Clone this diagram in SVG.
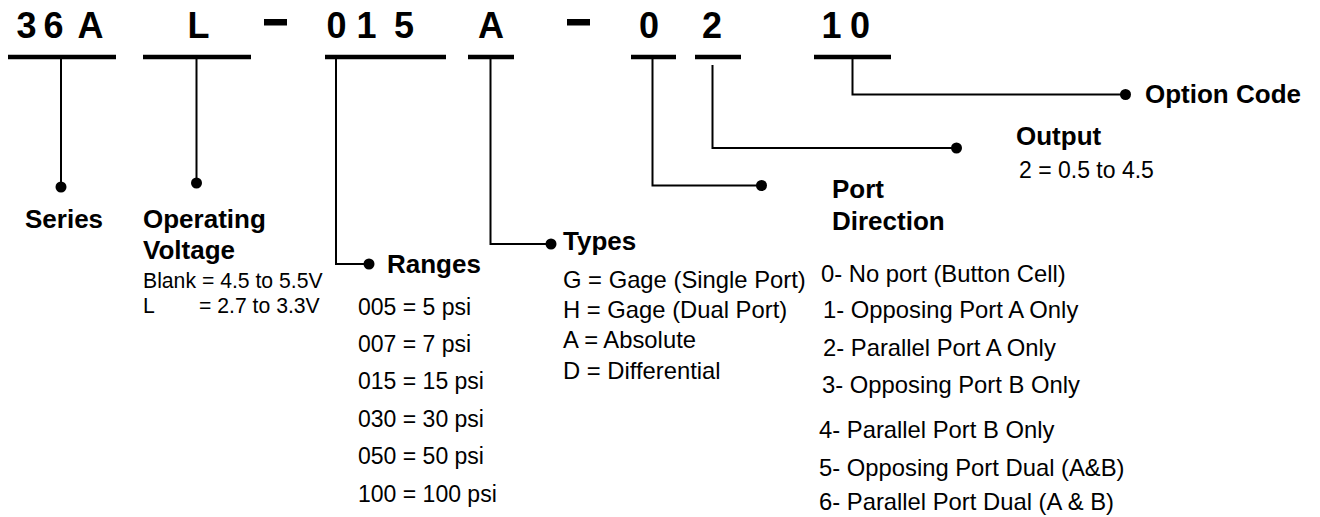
<svg xmlns="http://www.w3.org/2000/svg" width="1320" height="517" viewBox="0 0 1320 517">
<style>
  .code { font-family: "Liberation Sans", Arial, sans-serif; font-weight: bold; font-size: 36px; fill: #000; text-anchor: middle; }
  .bar { stroke: #000; stroke-width: 4.5; fill: none; }
  .dash { fill: #000; }
  .conn { stroke: #000; stroke-width: 2; fill: none; }
  .dot { fill: #000; }
  .lbl { font-family: "Liberation Sans", Arial, sans-serif; font-weight: bold; font-size: 26px; fill: #000; }
  .val { font-family: "Liberation Sans", Arial, sans-serif; font-size: 23px; fill: #000; }
  .val2 { font-family: "Liberation Sans", Arial, sans-serif; font-size: 23.8px; fill: #000; }
  .val3 { font-family: "Liberation Sans", Arial, sans-serif; font-size: 21.2px; fill: #000; }
</style>
<rect width="1320" height="517" fill="#fff"/>

<g id="code">
  <text class="code" x="26.5" y="38">3</text>
  <text class="code" x="53.5" y="38">6</text>
  <text class="code" x="90.5" y="38">A</text>
  <text class="code" x="198.5" y="38">L</text>
  <rect class="dash" x="264" y="19" width="23" height="6.5"/>
  <text class="code" x="336.5" y="38">0</text>
  <text class="code" x="366.5" y="38">1</text>
  <text class="code" x="404" y="38">5</text>
  <text class="code" x="491" y="38">A</text>
  <rect class="dash" x="567" y="19" width="23" height="6.5"/>
  <text class="code" x="649" y="38">0</text>
  <text class="code" x="712" y="38">2</text>
  <text class="code" x="831.5" y="38">1</text>
  <text class="code" x="860" y="38">0</text>
  <line class="bar" x1="8" y1="57" x2="116" y2="57"/>
  <line class="bar" x1="143" y1="57" x2="251" y2="57"/>
  <line class="bar" x1="325" y1="57" x2="446" y2="57"/>
  <line class="bar" x1="468" y1="57" x2="514" y2="57"/>
  <line class="bar" x1="631" y1="57" x2="676" y2="57"/>
  <line class="bar" x1="695" y1="57" x2="741" y2="57"/>
  <line class="bar" x1="814" y1="57" x2="891" y2="57"/>
</g>

<g id="connectors">
  <path class="conn" d="M61,59 V187"/>
  <circle class="dot" cx="61" cy="187" r="5.5"/>
  <path class="conn" d="M196.5,59 V183"/>
  <circle class="dot" cx="196.5" cy="183" r="5.5"/>
  <path class="conn" d="M336,59 V264 H369"/>
  <circle class="dot" cx="369" cy="264" r="5.5"/>
  <path class="conn" d="M490.5,59 V244 H551"/>
  <circle class="dot" cx="551" cy="244" r="5.5"/>
  <path class="conn" d="M652.5,59 V185.5 H761.5"/>
  <circle class="dot" cx="761.5" cy="185.5" r="5.5"/>
  <path class="conn" d="M712.5,65 V148 H956.5"/>
  <circle class="dot" cx="956.5" cy="148" r="5.5"/>
  <path class="conn" d="M852.5,59 V94.5 H1125.5"/>
  <circle class="dot" cx="1125.5" cy="94.5" r="5.5"/>
</g>

<g id="series">
  <text class="lbl" x="25" y="228">Series</text>
</g>

<g id="operating-voltage">
  <text class="lbl" x="143" y="228">Operating</text>
  <text class="lbl" x="143" y="259">Voltage</text>
  <text class="val3" x="143" y="288">Blank = 4.5 to 5.5V</text>
  <text class="val3"><tspan x="143" y="313">L</tspan><tspan x="199" y="313">= 2.7 to 3.3V</tspan></text>
</g>

<g id="ranges">
  <text class="lbl" x="387" y="273">Ranges</text>
  <text class="val" x="358" y="315">005 = 5 psi</text>
  <text class="val" x="358" y="352">007 = 7 psi</text>
  <text class="val" x="358" y="389">015 = 15 psi</text>
  <text class="val" x="358" y="427">030 = 30 psi</text>
  <text class="val" x="358" y="464">050 = 50 psi</text>
  <text class="val" x="358" y="502">100 = 100 psi</text>
</g>

<g id="types">
  <text class="lbl" x="563" y="250">Types</text>
  <text class="val2" x="563" y="288">G = Gage (Single Port)</text>
  <text class="val2" x="563" y="318">H = Gage (Dual Port)</text>
  <text class="val2" x="563" y="348">A = Absolute</text>
  <text class="val2" x="563" y="379">D = Differential</text>
</g>

<g id="port-direction">
  <text class="lbl" x="832" y="198">Port</text>
  <text class="lbl" x="832" y="230">Direction</text>
  <text class="val2" x="821" y="282">0- No port (Button Cell)</text>
  <text class="val2" x="823" y="318">1- Opposing Port A Only</text>
  <text class="val2" x="823" y="356">2- Parallel Port A Only</text>
  <text class="val2" x="822" y="393">3- Opposing Port B Only</text>
  <text class="val2" x="819" y="438">4- Parallel Port B Only</text>
  <text class="val2" x="819" y="476">5- Opposing Port Dual (A&amp;B)</text>
  <text class="val2" x="819" y="510">6- Parallel Port Dual (A &amp; B)</text>
</g>

<g id="output">
  <text class="lbl" x="1016" y="145">Output</text>
  <text class="val" x="1019" y="178">2 = 0.5 to 4.5</text>
</g>

<g id="option-code">
  <text class="lbl" x="1145" y="103">Option Code</text>
</g>
</svg>
